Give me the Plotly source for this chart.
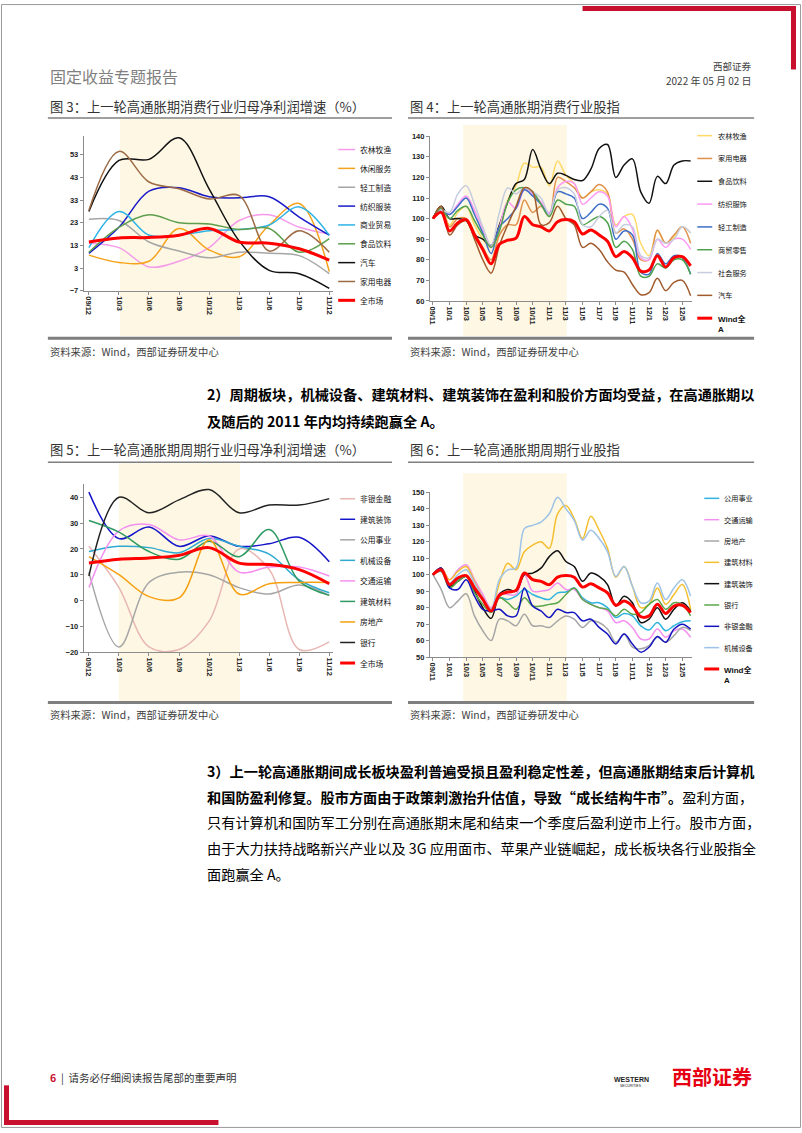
import plotly.graph_objects as go

# ---------------- DATA ----------------
Q_LABELS = ["09/12", "10/3", "10/6", "10/9", "10/12", "11/3", "11/6", "11/9", "11/12"]
M_LABELS = ["09/11", "09/12", "10/1", "10/2", "10/3", "10/4", "10/5", "10/6", "10/7", "10/8",
            "10/9", "10/10", "10/11", "10/12", "11/1", "11/2", "11/3", "11/4", "11/5", "11/6",
            "11/7", "11/8", "11/9", "11/10", "11/11", "11/12", "12/1", "12/2", "12/3", "12/4",
            "12/5", "12/6"]
M_TICKS = M_LABELS[0:31:2]

# Fig 3: consumer sectors net profit growth (%)
c3_nongye = [14, 12, 3.5, 6, 12, 24, 26.5, 21, 18]
c3_xiuxian = [8.7, 5.5, 6, 20.5, 11, 8, 22, 31.5, 1.5]
c3_qinggong = [24.5, 24, 14.5, 10.5, 7.5, 10, 9.5, 8.5, 0.5]
c3_fangzhi = [9.5, 21, 37, 38.5, 34.5, 34, 34.5, 25.5, 17.5]
c3_shangmao = [12, 28, 17.5, 17.5, 19.5, 20, 22, 30, 17.5]
c3_shipin = [10, 21, 26.5, 23, 22.5, 20, 20.5, 10, 16]
c3_qiche = [28, 50.5, 51, 60.5, 38, 15, 2, 0.5, -6]
c3_jiadian = [28.5, 54.5, 41, 38, 33.5, 35, 10.5, 19.5, 10]
c3_quanshichang = [14.5, 16.3, 16.5, 17.5, 20.5, 14.5, 14, 11.5, 6.5]

# Fig 4: consumer sector indices
c4_nongye = [100, 105, 97, 103, 106, 97, 90, 86, 95, 109, 116, 127, 125, 125, 116, 128,
             121, 117, 110, 113, 114, 112, 97, 101, 102, 88, 82, 94, 88, 91, 96, 93]
c4_jiadian = [100, 106, 96, 100, 100, 93, 86, 80, 92, 97, 97, 109, 103, 106, 101, 120,
              118, 115, 110, 113, 116.5, 113, 93, 95, 90, 80, 80, 94.5, 88, 92, 96, 88]
c4_shipin = [100, 106, 100, 100, 99, 92, 90, 87, 97, 108, 117, 119, 133.5, 124, 117, 122,
             121, 119, 118.5, 124, 134, 136, 120, 126, 129, 113, 107.5, 120.5, 117, 126, 128, 128]
c4_fangzhi = [100, 104, 102, 107, 111, 104, 95, 86, 96, 108, 105, 114, 112, 108, 103, 115,
              118, 117, 107, 110, 113, 111, 96, 101, 95, 81, 80, 90, 86, 90, 90, 85]
c4_qinggong = [100, 104, 102, 106, 110, 102, 93, 83, 96, 100, 105, 114, 111, 107, 102, 113,
               112, 110, 100, 103, 107, 105, 90, 94, 92, 74, 73, 83, 78, 82, 81, 73]
c4_shangmao = [100, 105, 100, 104, 106, 99, 92, 86, 94, 108, 114, 115, 113, 107, 101, 109,
               107, 106, 97, 99, 101, 98, 86, 89, 85, 72, 72, 78, 76, 80, 80, 73]
c4_shehui = [100, 104, 103, 112, 116, 107, 96, 87, 103, 115, 112, 115, 113, 110, 102, 114,
             115, 112, 97, 96, 101, 104, 93, 97, 96, 82, 81, 90, 88, 90, 96, 93]
c4_qiche = [100, 106, 92, 97, 99, 90, 80, 73.5, 87, 97, 106, 115, 113, 97, 98, 106,
            100, 97, 86, 88, 85, 79, 75, 74, 68, 63, 64, 71, 65, 69, 70, 62.5]
wind_a = [100, 103, 94, 98, 99.5, 92, 85, 78, 87.5, 89.5, 90.5, 101, 97, 96, 94, 98.5,
          99.5, 98.5, 92.5, 94.5, 92, 89, 81.5, 84, 81, 74.5, 75, 82, 76.5, 81, 81.5, 77]

# Fig 5: cyclical sectors net profit growth (%)
c5_feiyin = [21, 5, -18, -19, -8, 20, 12, -19, -16]
c5_jianzhuang = [42, 24, 28.5, 21, 25, 21, 22, 24.5, 15]
c5_gongyong = [11, -18, 7, 11, 10, 5, 2.5, 6, 2]
c5_jixie = [19, 21, 20.5, 18.5, 24, 21, 18, 8, 3]
c5_jiaotong = [5, 27, 29.5, 23.5, 25, 11, 13, 13, 9.5]
c5_jiancai = [31, 26.5, 19, 16, 23, 17, 27.5, 7.5, 2]
c5_fangdichan = [17, 10, 1.5, 1, 23.5, 2.5, 6.5, 7, 7]
c5_yinhang = [9.5, 40, 34, 39, 43, 34, 37, 37, 39.5]
c5_quanshichang = [14.5, 16, 16.5, 17.5, 20.5, 14.5, 14, 12, 6.5]

# Fig 6: cyclical sector indices
c6_gongyong = [100, 103, 94, 97, 99, 92, 85, 78, 86, 85, 87, 91, 88, 86, 85, 89,
               89.5, 92, 86, 83, 83, 80, 74, 76.5, 75, 69, 66.5, 71, 66, 69, 71.5, 72]
c6_jiaotong = [100, 104, 97, 103, 106, 97, 88, 80, 89, 88, 88, 100, 90, 90, 91, 95,
               91, 91, 85, 82, 80, 78, 71, 72, 68, 61, 61, 67, 62, 66, 67, 62]
c6_fangdichan = [100, 91, 80, 84, 88.5, 75, 66, 60, 73, 72, 69, 76, 69, 69, 68, 72,
                 75, 73, 68, 72, 71, 67, 59, 64, 56, 55, 57, 62, 59, 63, 68, 66]
c6_jiancai = [100, 104, 97, 102, 105, 96, 86, 79, 95, 107, 103, 114, 118, 120, 116, 137,
              142, 134, 122, 135.5, 127, 116, 98.5, 105, 93, 80, 82, 92, 82, 88, 94, 79]
c6_jianzhuang = [100, 104, 93, 96, 99, 90, 80, 73.5, 88, 91, 90, 100, 101, 104, 111, 114.5,
                 108, 105, 96, 101, 99, 94, 81, 87, 83, 71, 73, 80, 73, 79, 83, 78]
c6_yinhang = [100, 102, 92, 96, 99, 89, 82, 77, 86, 83, 79, 86, 81, 81, 82, 83,
              88, 92, 85, 82, 80, 79, 75, 79, 76, 77, 82, 85, 79, 83, 82, 75]
c6_feiyin = [100, 104, 92, 91, 97, 87, 79, 78, 79, 75, 75, 92, 81, 78, 74, 79,
             77, 77, 72, 73, 68, 64, 58, 64, 58, 53, 56, 62.5, 59, 67, 70, 67]
c6_jixie = [100, 103, 95, 100, 103, 95, 86, 79, 97, 103, 104, 128, 130, 132, 137, 147,
            140, 133, 121, 127, 122, 114, 99, 105, 93, 83, 84, 95, 85, 92, 97, 87]

# ---------------- SERIES / STYLES ----------------
RED = "#FF0000"
charts = [
    dict(ax="", x=Q_LABELS, series=[
        ("农林牧渔", c3_nongye, "#F59BEA"), ("休闲服务", c3_xiuxian, "#F5A21B"),
        ("轻工制造", c3_qinggong, "#A6A6A6"), ("纺织服装", c3_fangzhi, "#1A1AC8"),
        ("商业贸易", c3_shangmao, "#2DB4E6"), ("食品饮料", c3_shipin, "#5C9E4C"),
        ("汽车", c3_qiche, "#111111"), ("家用电器", c3_jiadian, "#9C6B45"),
        ("全市场", c3_quanshichang, RED)]),
    dict(ax="2", x=M_LABELS, series=[
        ("农林牧渔", c4_nongye, "#FFD966"), ("家用电器", c4_jiadian, "#E0904A"),
        ("食品饮料", c4_shipin, "#111111"), ("纺织服饰", c4_fangzhi, "#FF99F5"),
        ("轻工制造", c4_qinggong, "#3E6EC8"), ("商贸零售", c4_shangmao, "#4FA34F"),
        ("社会服务", c4_shehui, "#C7CCDF"), ("汽车", c4_qiche, "#A05A2C"),
        ("Wind全<br>A", wind_a, RED)]),
    dict(ax="3", x=Q_LABELS, series=[
        ("非银金融", c5_feiyin, "#E8B7B3"), ("建筑装饰", c5_jianzhuang, "#1414C8"),
        ("公用事业", c5_gongyong, "#A6A6A6"), ("机械设备", c5_jixie, "#2EA9D2"),
        ("交通运输", c5_jiaotong, "#F490F0"), ("建筑材料", c5_jiancai, "#2E9A62"),
        ("房地产", c5_fangdichan, "#F5A010"), ("银行", c5_yinhang, "#222222"),
        ("全市场", c5_quanshichang, RED)]),
    dict(ax="4", x=M_LABELS, series=[
        ("公用事业", c6_gongyong, "#2FB4E0"), ("交通运输", c6_jiaotong, "#F490F0"),
        ("房地产", c6_fangdichan, "#A6A6A6"), ("建筑材料", c6_jiancai, "#F5BE2E"),
        ("建筑装饰", c6_jianzhuang, "#111111"), ("银行", c6_yinhang, "#5AA64A"),
        ("非银金融", c6_feiyin, "#1515C0"), ("机械设备", c6_jixie, "#9EC3E6"),
        ("Wind全<br>A", wind_a, RED)]),
]

W, H = 802, 1133
def px(x): return x / W
def py(y): return 1 - y / H

CJK = "Noto Sans CJK SC"
fig = go.Figure()

for ch in charts:
    for name, vals, color in ch["series"]:
        fig.add_trace(go.Scatter(
            x=ch["x"], y=vals, mode="lines", name=name.replace("<br>", ""),
            line=dict(color=color, width=3 if color == RED else 1.5, shape="spline", smoothing=1),
            xaxis="x" + ch["ax"], yaxis="y" + ch["ax"], showlegend=False, hoverinfo="skip"))

axis_common = dict(showline=True, linecolor="#8C8C8C", linewidth=1, ticks="outside",
                   ticklen=3, tickcolor="#8C8C8C", showgrid=False, zeroline=False,
                   tickfont=dict(family="Liberation Sans, Arial", size=7.5, color="#222222",
                                 weight="bold"), fixedrange=True)

left_x = [px(83), px(333)]
right_x = [px(430), px(693)]
fig.update_layout(
    xaxis=dict(axis_common, domain=left_x, type="category", range=[-0.17, 8.13],
               tickangle=90, anchor="y"),
    yaxis=dict(axis_common, domain=[py(289), py(133.3)], range=[-7, 61.2],
               tickvals=[-7, 3, 13, 23, 33, 43, 53], anchor="x"),
    xaxis2=dict(axis_common, domain=right_x, type="category", range=[-0.36, 31.2],
                tickvals=M_TICKS, ticktext=M_TICKS, tickangle=90, anchor="y2"),
    yaxis2=dict(axis_common, domain=[py(299.3), py(133.3)], range=[60, 140],
                tickvals=list(range(60, 141, 10)), anchor="x2"),
    xaxis3=dict(axis_common, domain=left_x, type="category", range=[-0.17, 8.13],
                tickangle=90, anchor="y3"),
    yaxis3=dict(axis_common, domain=[py(653.3), py(484)], range=[-20, 45.1],
                tickvals=list(range(-20, 41, 10)), anchor="x3"),
    xaxis4=dict(axis_common, domain=right_x, type="category", range=[-0.36, 31.2],
                tickvals=M_TICKS, ticktext=M_TICKS, tickangle=90, anchor="y4"),
    yaxis4=dict(axis_common, domain=[py(658.3), py(492.3)], range=[50, 150],
                tickvals=list(range(50, 151, 10)), anchor="x4"),
)

shapes = []
annots = []

def hline(x0, x1, y, color, width):
    shapes.append(dict(type="line", xref="paper", yref="paper", x0=px(x0), x1=px(x1),
                       y0=py(y), y1=py(y), line=dict(color=color, width=width)))

def rect(x0, x1, y0, y1, color):
    shapes.append(dict(type="rect", xref="paper", yref="paper", x0=px(x0), x1=px(x1),
                       y0=py(y1), y1=py(y0), fillcolor=color, line=dict(width=0)))

def text(x, y, s, size, color="#000000", anchor="left", family=CJK, weight=None):
    f = dict(family=family, size=size, color=color)
    if weight:
        f["weight"] = weight
    annots.append(dict(xref="paper", yref="paper", x=px(x), y=py(y), text=s, showarrow=False,
                       xanchor=anchor, yanchor="middle", font=f, align="left"))

# high-inflation shading
SHADE = "#FDF7E4"
for ax, x0, x1, y0, y1 in [("x", 1.03, 5.03, 116, 335), ("x2", 3.64, 16.1, 122, 335),
                           ("x3", 1.0, 5.03, 463, 703), ("x4", 3.64, 16.1, 473, 703)]:
    shapes.append(dict(type="rect", xref=ax, yref="paper", x0=x0, x1=x1, y0=py(y1), y1=py(y0),
                       fillcolor=SHADE, line=dict(width=0), layer="below"))

# legends
legend_pos = [(338, 355, 358, 146.7, 19.0, 7.8), (698, 713, 717, 132.7, 23.0, 7.2),
              (340, 355, 358, 498.7, 20.7, 7.8), (705, 720, 723, 498.3, 21.5, 7.2)]
for ch, (lx0, lx1, tx, y0, dy, fs) in zip(charts, legend_pos):
    for i, (name, vals, color) in enumerate(ch["series"]):
        y = y0 + dy * i
        hline(lx0, lx1, y, color, 3 if color == RED else 1.5)
        if "<br>" in name:
            annots.append(dict(xref="paper", yref="paper", x=px(tx), y=py(y - 6), text=name,
                               showarrow=False, xanchor="left", yanchor="top", align="left",
                               font=dict(family="Liberation Sans, " + CJK, size=8,
                                         color="#111111", weight="bold")))
        else:
            text(tx, y, name, fs, "#111111")

# chart titles, rules, sources
TITLE_C = "#333333"
TS = 13.3
text(47, 103, "图 3：上一轮高通胀期消费行业归母净利润增速（%）", TS, TITLE_C)
text(408, 103, "图 4：上一轮高通胀期消费行业股指", TS, TITLE_C)
text(47, 449, "图 5：上一轮高通胀期周期行业归母净利润增速（%）", TS, TITLE_C)
text(408, 449, "图 6：上一轮高通胀期周期行业股指", TS, TITLE_C)
for y in (115, 462):
    hline(47, 392, y, "#7F7F7F", 1.5)
    hline(408, 755, y, "#7F7F7F", 1.5)
for y in (337, 704):
    hline(47, 392, y, "#7F7F7F", 3)
    hline(408, 755, y, "#7F7F7F", 3)
SRC = "资料来源：Wind，西部证券研发中心"
for y in (350, 716):
    text(47, y, SRC, 10.3, "#404040")
    text(408, y, SRC, 10.3, "#404040")

# header
text(47, 73, "固定收益专题报告", 16, "#7F7F7F")
text(755, 62, "西部证券", 9.5, "#404040", anchor="right")
text(755, 77, "2022 年 05 月 02 日", 10, "#404040", anchor="right")
rect(583, 797, 2, 7, "#C8102E")
rect(792, 797, 2, 66, "#C8102E")

# body paragraphs
BODY = 14.2
text(205, 393, "<b>2）周期板块，机械设备、建筑材料、建筑装饰在盈利和股价方面均受益，在高通胀期以</b>", BODY)
text(205, 420, "<b>及随后的 2011 年内均持续跑赢全 A。</b>", BODY)
para3 = [
    "<b>3）上一轮高通胀期间成长板块盈利普遍受损且盈利稳定性差，但高通胀期结束后计算机</b>",
    "<b>和国防盈利修复。股市方面由于政策刺激抬升估值，导致“成长结构牛市”。</b>盈利方面，",
    "只有计算机和国防军工分别在高通胀期末尾和结束一个季度后盈利逆市上行。股市方面，",
    "由于大力扶持战略新兴产业以及 3G 应用面市、苹果产业链崛起，成长板块各行业股指全",
    "面跑赢全 A。",
]
for i, line in enumerate(para3):
    text(205, 773 + 26 * i, line, BODY)

# footer
text(47, 1082, "<span style='color:#C8102E'><b>6</b></span>  |  请务必仔细阅读报告尾部的重要声明", 10.5, "#333333")
text(755, 1081, "<b>西部证券</b>", 20, "#E60012", anchor="right")
text(632, 1084, "<b>WESTERN</b>", 7, "#222222", anchor="center", family="Liberation Sans")
text(632, 1091, "SECURITIES", 3.5, "#222222", anchor="center", family="Liberation Sans")
rect(3, 8, 1090, 1130, "#C8102E")
rect(3, 218, 1125, 1130, "#C8102E")

# page border
shapes.append(dict(type="rect", xref="paper", yref="paper", x0=0.0006, x1=0.9994,
                   y0=0.0005, y1=0.9995, line=dict(color="#9A9A9A", width=1)))

fig.update_layout(shapes=shapes, annotations=annots, width=W, height=H, autosize=False,
                  margin=dict(l=0, r=0, t=0, b=0), paper_bgcolor="white",
                  plot_bgcolor="rgba(0,0,0,0)", showlegend=False,
                  font=dict(family=CJK))

fig.write_html("out.html", config={"displayModeBar": False, "staticPlot": True},
               post_script="document.body.style.margin='0';document.body.style.overflow='hidden';")
